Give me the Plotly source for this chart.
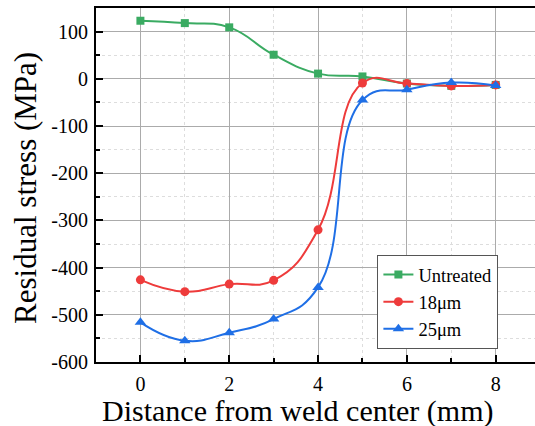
import plotly.graph_objects as go

distance = [0, 1, 2, 3, 4, 5, 6, 7, 8]
untreated = [123, 118, 109, 51, 11, 5, -10, -15, -13]
s18 = [-426, -451, -435, -427, -320, -9, -10, -15, -13]
s25 = [-516, -555, -538, -509, -442, -45, -23, -8, -14]

y_ticks = [100, 0, -100, -200, -300, -400, -500, -600]
y_tick_labels = ["100", "0", "-100", "-200", "-300", "-400", "-500", "-600"]
x_ticks = [0, 2, 4, 6, 8]

series = [
    ("Untreated", untreated, "#3aab62", "square", 8),
    ("18\u03bcm", s18, "#ee3b3b", "circle", 9),
    ("25\u03bcm", s25, "#1f6fe6", "triangle-up", 10),
]

fig = go.Figure()
for name, ys, color, sym, size in series:
    fig.add_trace(go.Scatter(
        x=distance, y=ys, name=name, mode="lines+markers",
        line=dict(color=color, width=2, shape="spline", smoothing=1.3),
        marker=dict(color=color, symbol=sym, size=size),
    ))

font = "Liberation Serif"
fig.update_layout(
    width=535, height=426,
    margin=dict(l=96, r=0, t=8, b=64, autoexpand=False),
    paper_bgcolor="white", plot_bgcolor="white",
    font=dict(family=font, color="black", size=20),
    showlegend=True,
    legend=dict(x=0.641, y=0.302, xanchor="left", yanchor="top",
                bgcolor="white", bordercolor="#555555", borderwidth=1,
                font=dict(size=18.5, family=font), tracegroupgap=0),
    annotations=[
        dict(text="Distance from weld center (mm)", xref="paper", yref="paper",
             x=0.460, y=-0.139, xanchor="center", yanchor="middle",
             showarrow=False, font=dict(size=30, family=font)),
        dict(text="Residual stress (MPa)", xref="paper", yref="paper",
             x=-0.162, y=0.4915, xanchor="center", yanchor="middle", textangle=-90,
             showarrow=False, font=dict(size=31, family=font)),
    ],
)
fig.update_xaxes(
    range=[-1, 8.885], tickvals=x_ticks, ticks="inside", ticklen=7,
    tickwidth=1.5, tickcolor="black", automargin=False,
    showline=True, linecolor="black", linewidth=2, mirror=True,
    showgrid=True, gridcolor="#ababab", gridwidth=1.2, zeroline=False,
    minor=dict(dtick=1, ticks="inside", ticklen=4, tickcolor="black",
               showgrid=True, gridcolor="#dddddd", griddash="dot"),
    tickfont=dict(size=20, family=font), ticklabelstandoff=3,
)
fig.update_yaxes(
    range=[-600, 150], tickvals=y_ticks, ticktext=y_tick_labels,
    ticks="inside", ticklen=7, tickwidth=1.5, tickcolor="black", automargin=False,
    showline=True, linecolor="black", linewidth=2, mirror=False,
    showgrid=True, gridcolor="#ababab", gridwidth=1.2, zeroline=False,
    minor=dict(tick0=50, dtick=100, ticks="inside", ticklen=4, tickcolor="black",
               showgrid=True, gridcolor="#dddddd", griddash="dot"),
    tickfont=dict(size=20, family=font), ticklabelstandoff=2,
)
fig.write_html("out.html", config={"displayModeBar": False},
               post_script="document.body.style.margin='0';document.body.style.overflow='hidden';")
